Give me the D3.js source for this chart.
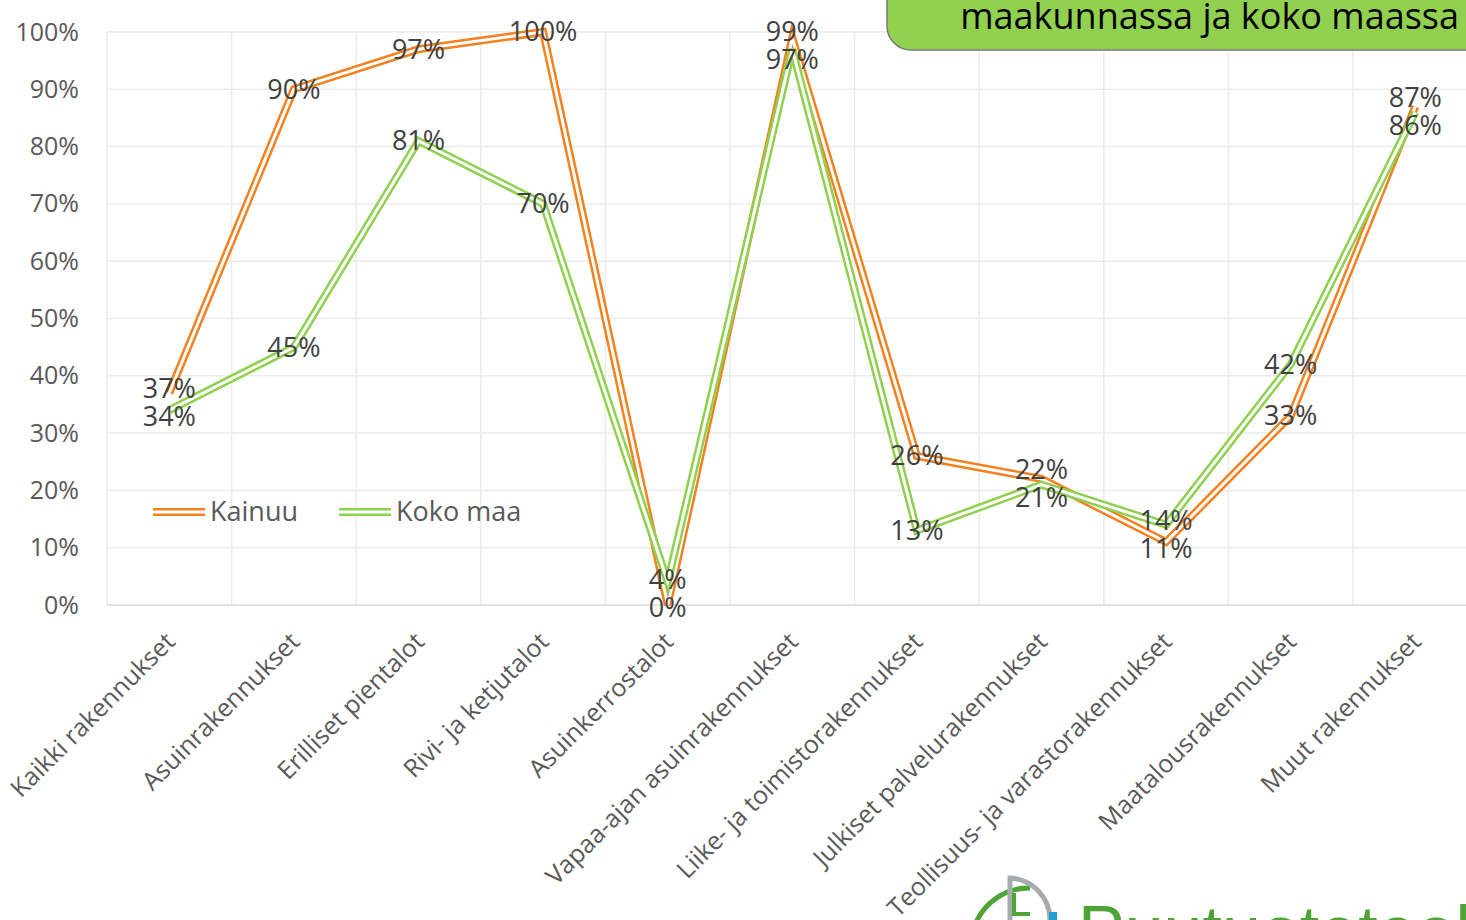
<!DOCTYPE html>
<html>
<head>
<meta charset="utf-8">
<script src="https://cdn.jsdelivr.net/npm/d3@7"></script>
<style>
  body { margin: 0; background: #fff; }
  svg { display: block; font-family: "Open Sans", sans-serif; }
</style>
</head>
<body>
<script>
// categories and series
var categories = ["Kaikki rakennukset", "Asuinrakennukset", "Erilliset pientalot",
  "Rivi- ja ketjutalot", "Asuinkerrostalot", "Vapaa-ajan asuinrakennukset",
  "Liike- ja toimistorakennukset", "Julkiset palvelurakennukset",
  "Teollisuus- ja varastorakennukset", "Maatalousrakennukset", "Muut rakennukset"];
var kainuu = [37, 90, 97, 100, 0, 99, 26, 22, 11, 33, 87];
var kokoMaa = [34, 45, 81, 70, 4, 97, 13, 21, 14, 42, 86];
var seriesNames = ["Kainuu", "Koko maa"];
var yTicks = [0, 10, 20, 30, 40, 50, 60, 70, 80, 90, 100];
var titleText = "maakunnassa ja koko maassa";
var logoText = "Puutuoteteollisuus";

window.onload = function(){
    var w = 1466, h = 920;
    var colors = ["#f4801f", "#8fd14f"];
    var left = 107, top = 32, bottom = 605, right = 107 + 11 * 124.6;

    var svg = d3.select("body").append("svg")
        .attr("width", w)
        .attr("height", h);

    var x = d3.scaleBand().domain(categories).range([left, right]);
    var y = d3.scaleLinear().domain([0, 100]).range([bottom, top]);

    //gridlines
    svg.append("g").selectAll("line.h")
        .data(yTicks.slice(1))
        .enter().append("line")
        .attr("x1", left).attr("x2", w)
        .attr("y1", function(d){ return y(d); })
        .attr("y2", function(d){ return y(d); })
        .style("stroke", "#ebebeb").style("stroke-width", 1.5);
    svg.append("g").selectAll("line.v")
        .data(categories)
        .enter().append("line")
        .attr("x1", function(d){ return x(d); })
        .attr("x2", function(d){ return x(d); })
        .attr("y1", top).attr("y2", bottom)
        .style("stroke", "#ebebeb").style("stroke-width", 1.5);
    svg.append("line")
        .attr("x1", left).attr("x2", w)
        .attr("y1", bottom).attr("y2", bottom)
        .style("stroke", "#d9d9d9").style("stroke-width", 1.5);

    //y axis
    var yAxis = svg.append("g")
        .attr("transform", "translate(" + 79 + ",0)")
        .call(d3.axisLeft(y).tickValues(yTicks).tickSize(0).tickPadding(0)
            .tickFormat(function(d){ return d + "%"; }));
    yAxis.select(".domain").remove();
    yAxis.selectAll("text")
        .style("font-family", "Open Sans").style("font-size", "25px")
        .style("fill", "#595959");

    //x axis labels, rotated
    var xAxis = svg.append("g")
        .attr("transform", "translate(0," + bottom + ")")
        .call(d3.axisBottom(x).tickSize(0).tickPadding(0));
    xAxis.select(".domain").remove();
    xAxis.selectAll("text")
        .attr("text-anchor", "end")
        .attr("transform", "translate(1,32) rotate(-45)")
        .attr("dy", "0.35em")
        .style("font-family", "Open Sans").style("font-size", "25px")
        .style("fill", "#595959");

    //lines (double line style)
    var line = d3.line()
        .x(function(d, i){ return x(categories[i]) + x.bandwidth() / 2; })
        .y(function(d){ return y(d); });
    [kainuu, kokoMaa].forEach(function(s, k){
        svg.append("path").datum(s)
            .attr("d", line)
            .style("fill", "none").style("stroke", colors[k])
            .style("stroke-width", 8).style("stroke-linejoin", "miter");
        svg.append("path").datum(s)
            .attr("d", line)
            .style("fill", "none").style("stroke", "#fff")
            .style("stroke-width", 3).style("stroke-linejoin", "miter");
    });

    //data labels, centered on points, nudged apart where they overlap
    var labels = [];
    categories.forEach(function(c, i){
        var a = { v: kainuu[i], y: y(kainuu[i]), i: i };
        var b = { v: kokoMaa[i], y: y(kokoMaa[i]), i: i };
        var up = a.y <= b.y ? a : b, dn = up === a ? b : a;
        var gap = dn.y - up.y;
        if (gap < 28) {
            var need = 28 - gap;
            up.y -= need * 0.4;
            dn.y += need * 0.6;
        }
        labels.push(a, b);
    });
    svg.append("g").selectAll("text")
        .data(labels)
        .enter().append("text")
        .attr("x", function(d){ return x(categories[d.i]) + x.bandwidth() / 2; })
        .attr("y", function(d){ return d.y; })
        .attr("dy", "0.35em")
        .attr("text-anchor", "middle")
        .style("font-size", "27px").style("fill", "#404040")
        .text(function(d){ return d.v + "%"; });

    //legend
    var leg = svg.append("g").attr("transform", "translate(153,512)");
    var legX = [0, 186];
    seriesNames.forEach(function(n, k){
        var g = leg.append("g").attr("transform", "translate(" + legX[k] + ",0)");
        g.append("line").attr("x1", 0).attr("x2", 52).attr("y1", 0).attr("y2", 0)
            .style("stroke", colors[k]).style("stroke-width", 8);
        g.append("line").attr("x1", 0).attr("x2", 52).attr("y1", 0).attr("y2", 0)
            .style("stroke", "#fff").style("stroke-width", 3);
        g.append("text").attr("x", 57).attr("dy", "0.35em")
            .style("font-size", "27px").style("fill", "#595959")
            .text(n);
    });

    //title box (partly outside the page)
    svg.append("rect")
        .attr("x", 887).attr("y", -40).attr("width", 620).attr("height", 90)
        .attr("rx", 24).attr("ry", 24)
        .style("fill", "#92d050").style("stroke", "#7a7a7a").style("stroke-width", 1.5);
    svg.append("text")
        .attr("x", 1459).attr("y", 29)
        .attr("text-anchor", "end")
        .style("font-size", "36px").style("fill", "#000")
        .text(titleText);

    //logo (cut by the bottom edge)
    var logo = svg.append("g");
    logo.append("path")
        .attr("d", "M975,925 A58,58 0 0 1 1030,888")
        .style("fill", "none").style("stroke", "#4ea434").style("stroke-width", 5);
    logo.append("path")
        .attr("d", "M1010,920 L1010,878 A42,42 0 0 1 1050,920")
        .style("fill", "none").style("stroke", "#a8abad").style("stroke-width", 5);
    logo.append("path")
        .attr("d", "M1014,893 L1014,914 L1030,914")
        .style("fill", "none").style("stroke", "#4ea434").style("stroke-width", 4);
    logo.append("rect")
        .attr("x", 1049).attr("y", 912).attr("width", 8).attr("height", 10)
        .style("fill", "#1ea0d0");
    logo.append("text")
        .attr("x", 1078).attr("y", 955)
        .style("font-size", "70px").style("fill", "#4ea434")
        .style("font-family", "Liberation Sans")
        .text(logoText);
};
</script>
</body>
</html>
